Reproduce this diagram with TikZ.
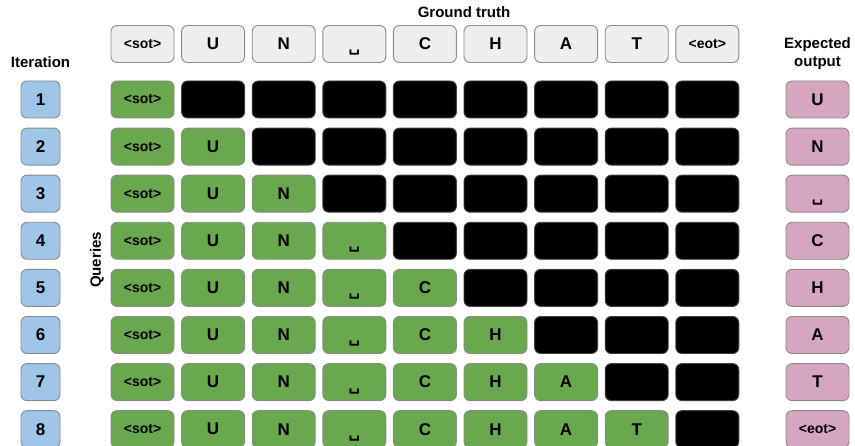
\documentclass[tikz,border=0pt]{standalone}
\usepackage{fontspec}
\setmainfont{Liberation Sans}
\newfontfamily\symfont{DejaVu Sans}
\usetikzlibrary{positioning}
\definecolor{cellgray}{HTML}{EEEEEE}
\definecolor{cellgreen}{HTML}{6AA84F}
\definecolor{cellblue}{HTML}{9FC5E8}
\definecolor{cellpink}{HTML}{D5A6BD}
\definecolor{edgegray}{HTML}{8A8A8A}
\newcommand{\vs}{\smash{\raisebox{-8pt}{\symfont\fontsize{16}{16}\selectfont ␣}}}
\newcommand{\tagtext}[1]{{\fontsize{14}{14}\selectfont #1}}

\begin{document}
\begin{tikzpicture}[x=1pt,y=-1pt,
cell/.style={draw=edgegray,line width=0.9pt,rounded corners=6pt,minimum width=63pt,minimum height=37pt,inner sep=0pt,font=\bfseries\fontsize{17}{17}\selectfont},
truth/.style={cell,fill=cellgray},
query/.style={cell,fill=cellgreen},
masked/.style={cell,fill=black,draw=black!75},
iter/.style={cell,fill=cellblue,minimum width=39pt},
expected/.style={cell,fill=cellpink},
heading/.style={font=\bfseries\fontsize{15}{18}\selectfont,align=center}]
\useasboundingbox (0,0) rectangle (855,446);
% titles
\node[heading](gt-title) at (464,12){Ground truth};
\node[heading](iter-title) at (40.5,62){Iteration};
\node[heading](out-title) at (817.5,54){Expected\\output};
\node[heading,rotate=90](queries) at (97,260){Queries};
% ground truth row
\foreach \t [count=\j from 0] in {{\tagtext{<sot>}},U,N,{\vs},C,H,A,T,{\tagtext{<eot>}}}
  \node[truth](gt-\j) at (142.5+\j*70.6,44){\t};
% iterations and queries
\foreach \i in {1,...,8}{
  \node[iter](it-\i) at (40.5,{99.5+(\i-1)*47.1}){\i};
  \foreach \t [count=\j from 0] in {{\tagtext{<sot>}},U,N,{\vs},C,H,A,T,{\tagtext{<eot>}}}{
    \ifnum\j<\i
      \node[query](q-\i-\j) at (142.5+\j*70.6,{99.5+(\i-1)*47.1}){\t};
    \else
      \node[masked](q-\i-\j) at (142.5+\j*70.6,{99.5+(\i-1)*47.1}){};
    \fi
  }
}
% expected output
\foreach \t [count=\i] in {U,N,{\vs},C,H,A,T,{\tagtext{<eot>}}}
  \node[expected](out-\i) at (817.5,{99.5+(\i-1)*47.1}){\t};
\end{tikzpicture}
\end{document}
